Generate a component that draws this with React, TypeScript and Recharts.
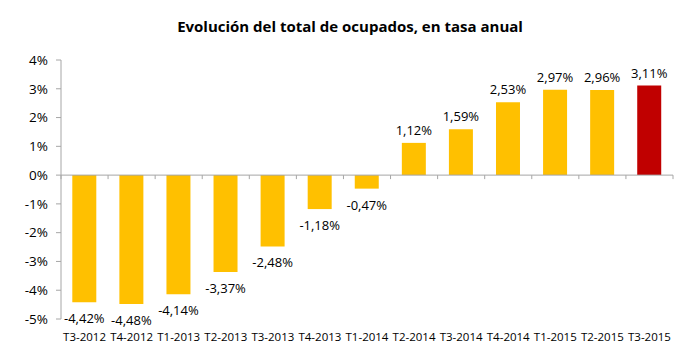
import { BarChart, Bar, XAxis, YAxis, ReferenceLine, LabelList, Cell } from "recharts";

const periods = [
  "T3-2012", "T4-2012", "T1-2013", "T2-2013", "T3-2013", "T4-2013", "T1-2014",
  "T2-2014", "T3-2014", "T4-2014", "T1-2015", "T2-2015", "T3-2015",
];
const rates = [-4.42, -4.48, -4.14, -3.37, -2.48, -1.18, -0.47, 1.12, 1.59, 2.53, 2.97, 2.96, 3.11];
const yTicks = [4, 3, 2, 1, 0, -1, -2, -3, -4, -5];
const highlight = "T3-2015";

const data = periods.map((p, i) => ({ period: p, rate: rates[i] }));

const FONT = "'Open Sans', 'Liberation Sans', sans-serif";
const fmt = (v: number) => `${v.toFixed(2).replace(".", ",")}%`;

function ZeroAxis(props: any) {
  const { x1, x2, y1 } = props;
  const n = periods.length;
  const step = (x2 - x1) / n;
  return (
    <g>
      <line x1={x1} x2={x2} y1={y1} y2={y1} stroke="#a6a6a6" strokeWidth={1} />
      {Array.from({ length: n + 1 }, (_, i) => (
        <line key={i} x1={x1 + i * step} x2={x1 + i * step} y1={y1} y2={y1 + 4} stroke="#a6a6a6" />
      ))}
    </g>
  );
}

function ValueLabel(props: any) {
  const { x, y, width, height, value } = props;
  const top = Math.min(y, y + height);
  const bottom = Math.max(y, y + height);
  const ty = value >= 0 ? top - 8 : bottom + 21;
  return (
    <text x={x + width / 2} y={ty} textAnchor="middle" fontSize={13} fill="#000" fontFamily={FONT}>
      {fmt(value)}
    </text>
  );
}

function PeriodTick(props: any) {
  const { x, y, payload } = props;
  return (
    <text x={x} y={y + 14} textAnchor="middle" fontSize={11.5} fill="#000" fontFamily={FONT}>
      {payload.value}
    </text>
  );
}

export default function App() {
  return (
    <div style={{ position: "absolute", left: 0, top: 0, width: 694, height: 358, background: "#fff" }}>
      <div
        style={{
          position: "absolute",
          left: 0,
          top: 16,
          width: 700,
          textAlign: "center",
          fontFamily: FONT,
          fontWeight: "bold",
          fontSize: 15,
          color: "#000",
        }}
      >
        Evolución del total de ocupados, en tasa anual
      </div>
      <BarChart
        width={694}
        height={358}
        data={data}
        margin={{ top: 60, right: 21, bottom: 0, left: 0 }}
        barCategoryGap="24%"
      >
        <YAxis
          domain={[-5, 4]}
          ticks={yTicks}
          interval={0}
          width={61}
          tickFormatter={(v: number) => `${v}%`}
          tick={{ fill: "#000", fontSize: 13.5, fontFamily: FONT }}
          axisLine={{ stroke: "#a6a6a6" }}
          tickLine={{ stroke: "#a6a6a6" }}
          tickSize={5}
          tickMargin={8}
        />
        <XAxis
          dataKey="period"
          height={39}
          axisLine={false}
          tickLine={false}
          interval={0}
          tick={<PeriodTick />}
        />
        <ReferenceLine y={0} shape={<ZeroAxis />} />
        <Bar dataKey="rate" isAnimationActive={false}>
          {data.map((d) => (
            <Cell key={d.period} fill={d.period === highlight ? "#c00000" : "#ffc000"} />
          ))}
          <LabelList dataKey="rate" content={<ValueLabel />} />
        </Bar>
      </BarChart>
    </div>
  );
}
